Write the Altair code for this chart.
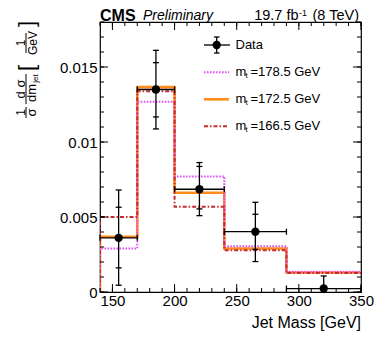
import altair as alt
import pandas as pd

# ---------------- data ----------------
EDGES = [140, 170, 200, 240, 290, 350]
CENTERS = [155, 185, 220, 265, 320]
DATA_Y = [0.00361, 0.0135, 0.00685, 0.00402, 0.00023]
TOT_HI = [0.0068, 0.01611, 0.00863, 0.00598, 0.00107]
TOT_LO = [0.00045, 0.01087, 0.00509, 0.00203, 0.0]
STAT_HI = [0.00565, 0.01529, 0.00837, 0.00518, None]
STAT_LO = [0.00161, 0.01167, 0.00554, 0.00284, None]

MT_1785 = [0.0029, 0.01268, 0.0077, 0.00305, 0.00135]
MT_1725 = [0.00368, 0.01366, 0.00662, 0.0029, 0.0013]
MT_1665 = [0.0050, 0.01339, 0.00569, 0.00279, 0.00127]

X_MAJOR = [150, 200, 250, 300, 350]
Y_MAJOR = [0, 0.005, 0.01, 0.015]
X_MINOR = list(range(140, 351, 10))
Y_MINOR = [i / 1000 for i in range(0, 19)]

W, H = 261, 270
FONT = "Liberation Sans"

xs = alt.Scale(domain=[140, 350], nice=False, zero=False)
ys = alt.Scale(domain=[0, 0.018], nice=False, zero=True)
ax_x = alt.Axis(values=X_MAJOR, ticks=False, domain=False, grid=False, title=None,
                labelFont=FONT, labelFontSize=15, labelPadding=1, labelColor="black",
                labelFlush=False, labelOverlap=False)
ax_y = alt.Axis(values=Y_MAJOR, ticks=False, domain=False, grid=False, title=None,
                format="~g", labelFont=FONT, labelFontSize=15, labelPadding=3,
                labelColor="black", labelOverlap=False)


def hist_df(vals):
    return pd.DataFrame({
        "x": [EDGES[0]] + EDGES[:-1] + [EDGES[-1]],
        "y": [0] + vals + [vals[-1]],
        "i": list(range(len(vals) + 2)),
    })


def hist(vals, color, width, dash=None):
    kw = dict(interpolate="step-after", color=color, strokeWidth=width, clip=True)
    if dash:
        kw["strokeDash"] = dash
    return alt.Chart(hist_df(vals)).mark_line(**kw).encode(
        x=alt.X("x:Q", scale=xs, axis=ax_x),
        y=alt.Y("y:Q", scale=ys, axis=ax_y),
        order="i:Q",
    )


ORANGE = "#ff8c1a"
MAGENTA = "#e050f5"
DRED = "#c8282d"
DOT = [1.6, 1.4]
DASHDOT = [4, 2, 1.5, 2]

h172 = hist(MT_1725, ORANGE, 2.6)
h178 = hist(MT_1785, MAGENTA, 2.0, DOT)
h166 = hist(MT_1665, DRED, 2.0, DASHDOT)

ddf = pd.DataFrame({
    "c": CENTERS, "v": DATA_Y,
    "lo": EDGES[:-1], "hi": EDGES[1:],
    "tlo": TOT_LO, "thi": TOT_HI, "slo": STAT_LO, "shi": STAT_HI,
})
base = alt.Chart(ddf)
ex = alt.X("c:Q", scale=xs, axis=ax_x)
vbar = base.mark_rule(color="black", strokeWidth=1.3).encode(
    x=ex, y=alt.Y("tlo:Q", scale=ys, axis=ax_y), y2="thi:Q")
hbar = base.mark_rule(color="black", strokeWidth=1.3).encode(
    x=alt.X("lo:Q", scale=xs, axis=ax_x), x2="hi:Q", y=alt.Y("v:Q", scale=ys, axis=ax_y))
vcaps = base.transform_fold(["tlo", "thi", "slo", "shi"], as_=["k", "yv"]).transform_filter(
    "isValid(datum.yv) && datum.yv > 0").mark_rule(
    color="black", strokeWidth=1.3, xOffset=-3, x2Offset=3).encode(
    x=ex, x2="c:Q", y=alt.Y("yv:Q", scale=ys, axis=ax_y))
hcaps = base.transform_fold(["lo", "hi"], as_=["k", "xv"]).mark_rule(
    color="black", strokeWidth=1.3, yOffset=-3, y2Offset=3).encode(
    x=alt.X("xv:Q", scale=xs, axis=ax_x), y=alt.Y("v:Q", scale=ys, axis=ax_y), y2="v:Q")
pts = base.mark_circle(color="black", opacity=1, size=70).encode(
    x=ex, y=alt.Y("v:Q", scale=ys, axis=ax_y))

# ---------------- inward axis ticks ----------------
def xticks(vals, length):
    d = pd.DataFrame({"t": vals})
    b = alt.Chart(d).mark_rule(color="black", strokeWidth=1)
    xe = alt.X("t:Q", scale=xs, axis=ax_x)
    return [b.encode(x=xe, y=alt.value(H), y2=alt.value(H - length)),
            b.encode(x=xe, y=alt.value(0), y2=alt.value(length))]


def yticks(vals, length):
    d = pd.DataFrame({"t": vals})
    b = alt.Chart(d).mark_rule(color="black", strokeWidth=1)
    ye = alt.Y("t:Q", scale=ys, axis=ax_y)
    return [b.encode(y=ye, x=alt.value(0), x2=alt.value(length)),
            b.encode(y=ye, x=alt.value(W), x2=alt.value(W - length))]


tick_layers = xticks(X_MINOR, 4) + xticks(X_MAJOR, 8) + yticks(Y_MINOR, 4) + yticks(Y_MAJOR, 8)

# ---------------- annotations ----------------
one = pd.DataFrame({"a": [0]})


def txt(s, x, y, size, align="left", baseline="middle", angle=0, style="normal",
        weight="normal"):
    kw = dict(text=s, font=FONT, fontSize=size, align=align, baseline=baseline,
              fontStyle=style, fontWeight=weight, color="black")
    if angle:
        kw["angle"] = angle
    return alt.Chart(one).mark_text(**kw).encode(x=alt.value(x), y=alt.value(y))


def seg(x1, y1, x2, y2, color="black", width=1.0, dash=None):
    kw = dict(color=color, strokeWidth=width)
    if dash:
        kw["strokeDash"] = dash
    return alt.Chart(one).mark_rule(**kw).encode(
        x=alt.value(x1), y=alt.value(y1), x2=alt.value(x2), y2=alt.value(y2))


def dot(x, y):
    return alt.Chart(one).mark_circle(color="black", opacity=1, size=70).encode(
        x=alt.value(x), y=alt.value(y))


ann = []
# header
ann.append(txt("CMS", 0, -6, 16, weight="bold"))
ann.append(txt("Preliminary", 43, -6, 14, style="italic"))
ann.append(txt("(8 TeV)", 259, -6, 14.5, align="right"))
ann.append(txt("-1", 207, -9.5, 9, align="right"))
ann.append(txt("19.7 fb", 198.5, -6, 14.5, align="right"))
# x title
ann.append(txt("Jet Mass [GeV]", W, H + 36, 16, align="right", baseline="alphabetic"))
# y title (rotated, built piecewise)
ann.append(txt("1", -79, 90.5, 12, align="center", angle=270))
ann.append(seg(-74, 85, -74, 96))
ann.append(txt("σ", -68, 90.5, 13, align="center", angle=270))
ann.append(txt("d σ", -79, 67, 13, align="center", angle=270))
ann.append(seg(-74, 52, -74, 82))
ann.append(txt("dm", -68, 71, 13, align="center", angle=270))
ann.append(txt("jet", -64, 56.5, 8, align="center", angle=270))
ann.append(txt("[", -73, 46, 22, align="center", angle=270))
ann.append(txt("1", -79, 21, 12, align="center", angle=270))
ann.append(seg(-74, 11, -74, 31))
ann.append(txt("GeV", -67.5, 21, 12, align="center", angle=270))
ann.append(txt("]", -73, 2, 22, align="center", angle=270))

# legend
ann.append(seg(104, 23, 130, 23, width=1.3))
ann.append(seg(116.7, 15, 116.7, 31, width=1.3))
ann.append(seg(114, 15, 119.5, 15, width=1.3))
ann.append(seg(114, 31, 119.5, 31, width=1.3))
ann.append(dot(116.7, 23))
ann.append(txt("Data", 135.5, 23, 13))
LEG = [(50.3, "178.5", MAGENTA, 2.0, DOT), (77.3, "172.5", ORANGE, 2.6, None),
       (104.3, "166.5", DRED, 2.0, DASHDOT)]
for y, lab, col, wdt, dash in LEG:
    ann.append(seg(104, y, 129, y, color=col, width=wdt, dash=dash))
    ann.append(txt("m", 135.5, y, 13))
    ann.append(txt("t", 145.5, y + 4, 8))
    ann.append(txt("=" + lab + " GeV", 150.5, y, 13))

chart = alt.layer(
    h172, h178, h166, vbar, hbar, vcaps, hcaps, pts, *tick_layers, *ann
).properties(
    width=W, height=H,
    autosize=alt.AutoSizeParams(type="none"),
    padding={"left": 92, "top": 14, "right": 13, "bottom": 47},
).configure_view(stroke="black", strokeWidth=1.2)

chart.save("out.html", embed_options={"renderer": "svg", "actions": False})
